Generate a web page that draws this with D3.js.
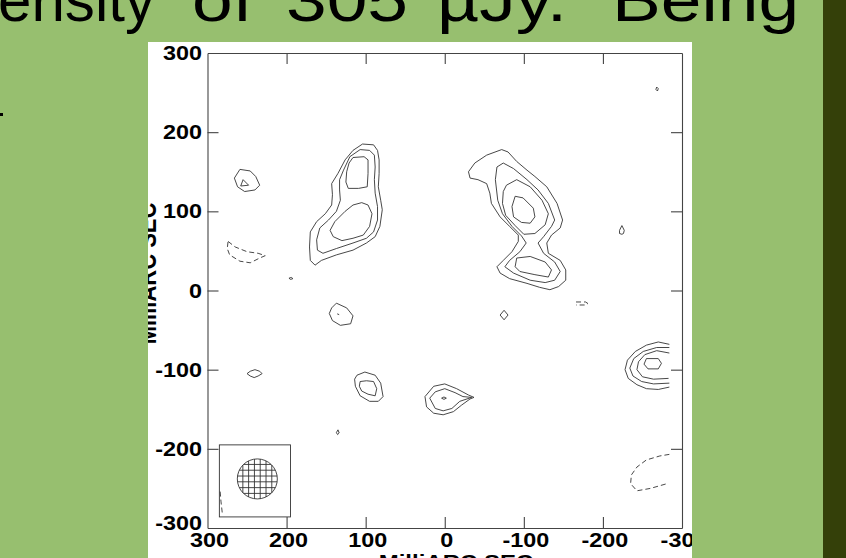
<!DOCTYPE html>
<html><head><meta charset="utf-8">
<script src="https://cdn.jsdelivr.net/npm/d3@7"></script>
<style>html,body{margin:0;padding:0;overflow:hidden;background:#97bf6f}</style>
</head><body>
<script>
// ---------- data (milliarcsec coordinates) ----------
const xTicks = [300, 200, 100, 0, -100, -200, -300];
const yTicks = [300, 200, 100, 0, -100, -200, -300];
const titleWords = ["ensity", "of", "305", "µJy.", "Being"];
const axisTitle = "MilliARC SEC";

const leftLobe1 = [[104,185],[90,184],[85,177],[83,165],[83,148],[84,131],[81,114],[79,102],[82,81],[88,68],[99,60],[116,51],[137,45],[156,38],[164,32],[170,38],[171,55],[170,74],[162,87],[151,97],[143,108],[142,121],[143,135],[135,148],[126,165],[116,177]];
const leftLobe2 = [[107,178],[95,177],[89,171],[88,156],[89,140],[88,123],[85,106],[85,89],[90,74],[99,66],[116,60],[137,53],[154,47],[161,51],[162,64],[158,79],[147,89],[137,100],[132,114],[133,127],[133,140],[128,152],[120,169]];
const leftLobe3a = [[116,168],[102,169],[97,165],[97,148],[98,131],[109,129],[122,129],[125,137],[124,150],[121,161]];
const leftLobe3b = [[105,111],[97,108],[92,97],[95,81],[103,70],[116,66],[130,63],[141,68],[145,76],[139,87],[126,100],[116,108]];
const knotNW1 = [[259,153],[246,151],[239,144],[234,133],[240,127],[253,125],[262,131],[266,142]];
const knotNW2 = [[255,140],[248,133],[258,132]];
const speckA = [[192,15],[194,16.5],[197,15.5],[195,14]];
const rightLobe1 = [[-30,150],[-38,161],[-53,171],[-72,178],[-80,175],[-91,163],[-104,152],[-114,144],[-129,131],[-142,110],[-149,89],[-146,79],[-135,70],[-129,60],[-131,47],[-146,38],[-153,26],[-153,13],[-144,5],[-133,1],[-120,4],[-104,9],[-82,15],[-70,22],[-66,30],[-74,38],[-85,49],[-93,62],[-93,70],[-82,81],[-70,93],[-59,110],[-57,123],[-53,135],[-42,140],[-32,142]];
const rightLobe2 = [[-66,156],[-74,161],[-87,154],[-104,140],[-118,127],[-131,110],[-139,89],[-135,81],[-125,68],[-118,60],[-125,47],[-139,36],[-146,24],[-139,13],[-127,10],[-108,13],[-87,22],[-76,30],[-82,38],[-95,49],[-103,60],[-97,69],[-85,81],[-73,97],[-67,114],[-64,140]];
const rightLobe3a = [[-78,133],[-91,140],[-108,131],[-123,114],[-131,97],[-127,83],[-114,72],[-100,71],[-89,82],[-77,95],[-73,110],[-74,125]];
const rightLobe3b = [[-91,41],[-108,43],[-127,36],[-135,26],[-131,17],[-114,20],[-95,24],[-89,30]];
const rightLobe4 = [[-89,119],[-99,117],[-112,104],[-114,93],[-108,85],[-97,86],[-87,93],[-85,106]];
const speckB = [[-268,257],[-270,255],[-269,252],[-267,254]];
const dropE = [[-224,82],[-227,76],[-226,72],[-224,71],[-221,72],[-221,76]];
const diamondS = [[-75,-25],[-80,-31],[-75,-37],[-70,-31]];
const knotC1 = [[25,-134],[14,-121],[0,-118],[-15,-124],[-30,-132],[-37,-135],[-32,-137],[-21,-145],[-11,-153],[2,-157],[14,-155],[23,-147]];
const knotC2 = [[19,-136],[12,-128],[0,-124],[-13,-129],[-23,-134],[-34,-135],[-19,-140],[-9,-149],[2,-152],[12,-149]];
const knotC3 = [[4,-136],[1,-134.5],[-2,-136],[1,-137.5]];
const knotE1 = [[137,-16],[124,-22],[116,-32],[119,-42],[132,-44],[142,-38],[146,-29],[143,-22]];
const knotE2 = [[136,-29.5],[133.5,-30.5]];
const knotF1 = [[250,-105],[246,-102],[240,-100],[234,-102],[231,-105],[236,-108],[241,-110],[246,-108]];
const knotG1 = [[111,-107],[101,-103],[88,-107],[81,-117],[78,-134],[84,-140],[95,-140],[107,-133],[113,-121],[114,-112]];
const knotG2 = [[107,-115],[99,-114],[90,-115],[86,-124],[88,-133],[97,-131],[105,-127],[108,-121]];
const dropS = [[135,-176],[137,-179.5],[135.5,-182],[133.5,-180]];
const knotW4 = [[-255,-86],[-270,-86],[-274,-92],[-270,-99],[-257,-99],[-252,-93]];
// open contours reaching the map edge
const edgeW1 = [[-284,-68],[-270,-65],[-255,-69],[-241,-77],[-231,-88],[-228,-100],[-232,-111],[-243,-119],[-255,-124],[-270,-125],[-284,-122]];
const edgeW2 = [[-284,-72],[-268,-72],[-251,-77],[-239,-86],[-234,-98],[-238,-108],[-249,-115],[-264,-118],[-284,-117]];
const edgeW3 = [[-284,-79],[-268,-76],[-253,-81],[-245,-90],[-243,-100],[-250,-109],[-264,-112],[-283,-111]];
// negative (dashed) contours
const dashNW = [[274,62],[265,55],[250,49],[236,47],[227,44],[234,41],[246,35],[259,37],[272,45],[275,53]];
const dashE = [[-166,-14.5],[-178,-14.5],[-181,-16.4],[-178,-18.3],[-166,-18.3]];
const dashSW = [[-284,-207],[-272,-209],[-255,-214],[-243,-223],[-236,-233],[-235,-244],[-243,-253],[-260,-250],[-281,-244]];
const dashBeam = [[284,-254],[283,-266],[281,-284]];

const closedSolid = [leftLobe1,leftLobe2,leftLobe3a,leftLobe3b,knotNW1,knotNW2,speckA,rightLobe1,rightLobe2,rightLobe3a,rightLobe3b,rightLobe4,speckB,dropE,diamondS,knotC1,knotC2,knotC3,knotE1,knotF1,knotG1,knotG2,dropS,knotW4];
const openSolid = [edgeW1, edgeW2, edgeW3, knotE2];
const closedDashed = [dashNW];
const openDashed = [dashE, dashSW, dashBeam];

// restoring beam (mas)
const beamBox = [285, 195, -195, -286];   // x0, x1, y0, y1
const beamCenter = [237, -238];
const beamRadius = 25.3;
const beamHatch = [-18.3, -11, -3.65, 3.65, 11, 18.3];

// ---------- drawing ----------
const W = 846, H = 558;
const font = "'Liberation Sans', Arial, Helvetica, sans-serif";
const sx = 1.2; // horizontal stretch of the slide picture
const ink = "#333";

const svg = d3.select("body").append("svg").attr("width", W).attr("height", H)
  .style("display","block").style("font-family", font);

svg.append("rect").attr("width", W).attr("height", H).attr("fill", "#97bf6f");
svg.append("rect").attr("x", 823).attr("y", 0).attr("width", 23).attr("height", H).attr("fill", "#344009");

// title line (cut by the top of the slide)
const ts = 1.18;
const titleX = [-2, 192, 286, 437, 612];
const titleLen = [157, null, null, null, null];
svg.append("text").attr("transform", `scale(${ts},1)`).attr("y", 20.5)
  .style("font-size", "62px").attr("fill", "#000")
  .selectAll("tspan").data(titleWords).join("tspan")
  .attr("x", (d, i) => titleX[i] / ts)
  .each(function(d, i) {
    if (titleLen[i]) d3.select(this).attr("textLength", titleLen[i] / ts).attr("lengthAdjust", "spacingAndGlyphs");
  })
  .text(d => d);
svg.append("rect").attr("x", 0).attr("y", 113).attr("width", 3).attr("height", 3).attr("fill", "#000");

// white picture panel
svg.append("defs").append("clipPath").attr("id", "panel")
  .append("rect").attr("x", 148).attr("y", 42).attr("width", 544).attr("height", 516);
svg.append("rect").attr("x", 148).attr("y", 42).attr("width", 544).attr("height", 516).attr("fill", "#fff");
const g = svg.append("g").attr("clip-path", "url(#panel)");

const x = d3.scaleLinear().domain([300, -300]).range([207.5, 682]);
const y = d3.scaleLinear().domain([300, -300]).range([53, 528]);

const lineClosed = d3.line().x(d => x(d[0])).y(d => y(d[1])).curve(d3.curveLinearClosed);
const lineOpen = d3.line().x(d => x(d[0])).y(d => y(d[1])).curve(d3.curveLinear);

const cg = g.append("g").attr("fill", "none").attr("stroke", ink).attr("stroke-width", 0.9);
cg.selectAll("path.cs").data(closedSolid).join("path").attr("class","cs").attr("d", lineClosed);
cg.selectAll("path.os").data(openSolid).join("path").attr("class","os").attr("d", lineOpen);
cg.selectAll("path.cd").data(closedDashed).join("path").attr("class","cd").attr("d", lineClosed).attr("stroke-dasharray", "5,3");
cg.selectAll("path.od").data(openDashed).join("path").attr("class","od").attr("d", lineOpen).attr("stroke-dasharray", "5,3");

// beam inset
const bg = g.append("g").attr("fill", "none").attr("stroke", ink).attr("stroke-width", 0.9);
bg.append("rect").attr("x", x(beamBox[0])).attr("y", y(beamBox[2]))
  .attr("width", x(beamBox[1]) - x(beamBox[0])).attr("height", y(beamBox[3]) - y(beamBox[2]));
const rpx = x(beamCenter[0] - beamRadius) - x(beamCenter[0]);
bg.append("circle").attr("cx", x(beamCenter[0])).attr("cy", y(beamCenter[1])).attr("r", rpx);
beamHatch.forEach(o => {
  const h = Math.sqrt(beamRadius * beamRadius - o * o);
  bg.append("line").attr("x1", x(beamCenter[0] + o)).attr("x2", x(beamCenter[0] + o))
    .attr("y1", y(beamCenter[1] + h)).attr("y2", y(beamCenter[1] - h));
  bg.append("line").attr("y1", y(beamCenter[1] + o)).attr("y2", y(beamCenter[1] + o))
    .attr("x1", x(beamCenter[0] - h)).attr("x2", x(beamCenter[0] + h));
});
g.selectAll("path.od").raise();

// axes (ticks inward on all four sides)
const inner = xTicks.slice(1, -1);
const fmt = d => String(d);   // ASCII hyphen as in the original plot
const styleAxis = sel => {
  sel.selectAll(".domain").attr("stroke", "#444").attr("stroke-width", 1.1);
  sel.selectAll(".tick line").attr("stroke", "#444").attr("stroke-width", 1.1);
};
const labelSize = "19.5px";

const axB = g.append("g").attr("transform", `translate(0,${y(-300)})`)
  .call(d3.axisBottom(x).tickValues(xTicks).tickSize(-11).tickSizeOuter(0).tickPadding(5).tickFormat(fmt));
axB.selectAll(".tick line").filter(d => d === 300 || d === -300).remove();
axB.selectAll("text").attr("fill", "#000").style("font-size", labelSize).style("font-weight", "bold")
  .style("font-family", font).attr("x", 1.5 / sx).attr("transform", `scale(${sx},1)`);
styleAxis(axB);

const axT = g.append("g").attr("transform", `translate(0,${y(300)})`)
  .call(d3.axisTop(x).tickValues(inner).tickSize(-11).tickSizeOuter(0).tickFormat(""));
styleAxis(axT);

const axL = g.append("g").attr("transform", `translate(${x(300)},0)`)
  .call(d3.axisLeft(y).tickValues(yTicks).tickSize(-11).tickSizeOuter(0).tickPadding(5.5).tickFormat(fmt));
axL.selectAll(".tick line").filter(d => d === 300 || d === -300).remove();
axL.selectAll("text").attr("fill", "#000").style("font-size", labelSize).style("font-weight", "bold")
  .style("font-family", font).attr("x", -5.5 / sx).attr("transform", `scale(${sx},1)`)
  .attr("dy", d => d === -300 ? "0.08em" : "0.34em");
styleAxis(axL);

const axR = g.append("g").attr("transform", `translate(${x(-300)},0)`)
  .call(d3.axisRight(y).tickValues(inner).tickSize(-11).tickSizeOuter(0).tickFormat(""));
styleAxis(axR);

// axis titles (mostly cut off by the panel)
g.append("text").attr("transform", `translate(156,273.5) scale(${sx},1) rotate(-90)`)
  .attr("text-anchor", "middle").style("font-size", "22px").style("font-weight", "bold")
  .attr("fill", "#000").text(axisTitle);
g.append("text").attr("transform", `translate(456,569) scale(${sx},1)`)
  .attr("text-anchor", "middle").style("font-size", "20px").style("font-weight", "bold")
  .attr("fill", "#000").text(axisTitle);
</script>
</body></html>
